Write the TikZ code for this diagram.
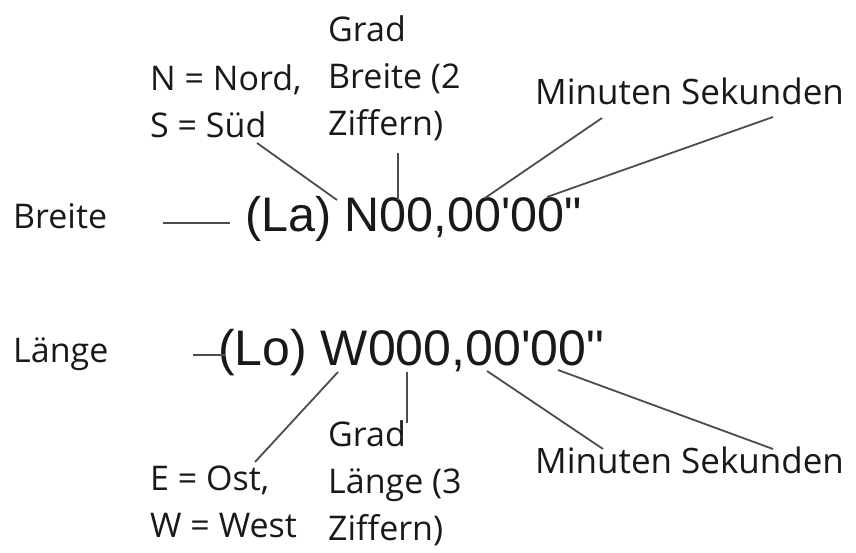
\documentclass[tikz,border=0pt]{standalone}
\usepackage{fontspec}
\setmainfont{Open Sans}
\newfontfamily\codefont[Ligatures=TeXOff]{Liberation Sans}
\usetikzlibrary{positioning}

\begin{document}
\begin{tikzpicture}[
            x=1pt, y=-1pt,
            every node/.style={inner sep=0pt, anchor=base west, text=black!90},
            note/.style={font=\fontsize{34}{47}\selectfont, align=left},
            wide note/.style={font=\fontsize{35}{47}\selectfont},
            bigtext/.style={font=\codefont\fontsize{48.5}{58}\selectfont},
            leader/.style={draw=black!70, line width=1.8pt},
        ]
        \useasboundingbox (0,0) rectangle (856,553);
        % latitude
        \node (breite) at (13,229) [note] {Breite};
        \node (la) at (245,232) [bigtext] {(La) N00,00'00"};
        \node (nord) at (150,138) [note] {N = Nord,\\S = Süd};
        \node (gradb) at (328,136) [note] {Grad\\Breite (2\\Ziffern)};
        \node (minsek1) at (535,105) [wide note] {Minuten Sekunden};
        \coordinate (d1a) at (163,223);  \coordinate (d1b) at (230,223);
        \coordinate (s1) at (257,143);   \coordinate (pn) at (337,200);
        \coordinate (g1) at (398,153);   \coordinate (pg1) at (398,200);
        \coordinate (m1) at (602,118);   \coordinate (pm1) at (485,198);
        \coordinate (k1) at (773,117);   \coordinate (pk1) at (547,197);
        \draw[leader] (d1a) -- (d1b);
        \draw[leader] (s1) -- (pn);
        \draw[leader] (g1) -- (pg1);
        \draw[leader] (m1) -- (pm1);
        \draw[leader] (k1) -- (pk1);
        % longitude
        \node (laenge) at (13,362) [note] {Länge};
        \node (lo) at (218,365) [bigtext, font=\codefont\fontsize{50}{58}\selectfont] {(Lo) W000,00'00"};
        \node (ost) at (150,537) [note] {E = Ost,\\W = West};
        \node (gradl) at (328,540) [note] {Grad\\Länge (3\\Ziffern)};
        \node (minsek2) at (535,473) [wide note] {Minuten Sekunden};
        \coordinate (d2a) at (193,355);  \coordinate (d2b) at (225,355);
        \coordinate (pw) at (338,372);   \coordinate (o2) at (255,462);
        \coordinate (pg2) at (407,372);  \coordinate (g2) at (407,423);
        \coordinate (pm2) at (487,371);  \coordinate (m2) at (603,449);
        \coordinate (pk2) at (558,370);  \coordinate (k2) at (773,449);
        \draw[leader] (d2a) -- (d2b);
        \draw[leader] (pw) -- (o2);
        \draw[leader] (pg2) -- (g2);
        \draw[leader] (pm2) -- (m2);
        \draw[leader] (pk2) -- (k2);
        \end{tikzpicture}
\end{document}
